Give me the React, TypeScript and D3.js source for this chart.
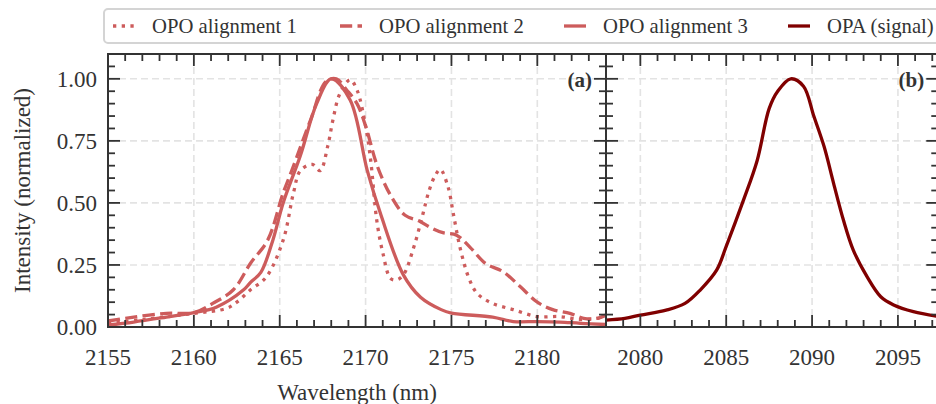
import React, { useEffect, useRef } from 'react'
import * as d3 from 'd3'

// OPO alignment 1 (dotted)
const opo1Wl = [2155, 2157, 2160, 2161.9, 2162.5, 2163.3, 2164.2, 2165.2, 2165.8, 2166.2, 2166.9, 2167.35, 2167.8, 2168.1, 2168.5, 2169.1, 2169.5, 2170.0, 2170.3, 2170.65, 2171.0, 2171.45, 2171.8, 2172.2, 2172.8, 2173.3, 2173.7, 2174.05, 2174.35, 2174.8, 2175.1, 2175.5, 2176.0, 2176.5, 2177.4, 2178.6, 2180.0, 2181.3, 2182.5, 2183.5, 2184]
const opo1Int = [0.015, 0.03, 0.055, 0.075, 0.1, 0.15, 0.2, 0.35, 0.54, 0.63, 0.655, 0.63, 0.73, 0.835, 0.94, 0.996, 0.955, 0.81, 0.67, 0.43, 0.3, 0.196, 0.19, 0.21, 0.32, 0.445, 0.55, 0.61, 0.635, 0.565, 0.46, 0.32, 0.2, 0.135, 0.095, 0.07, 0.042, 0.042, 0.03, 0.035, 0.04]

// OPO alignment 2 (dashed)
const opo2Wl = [2155, 2156.5, 2158.4, 2160, 2161.1, 2162.3, 2163.3, 2164.3, 2165.2, 2165.7, 2166.8, 2167.7, 2168.3, 2168.9, 2169.5, 2170.0, 2170.7, 2171.5, 2172.3, 2173.1, 2173.8, 2174.5, 2175.3, 2176.1, 2177.0, 2178.0, 2179.0, 2180.0, 2180.9, 2181.9, 2182.7, 2183.5, 2184]
const opo2Int = [0.024, 0.04, 0.055, 0.058, 0.095, 0.15, 0.257, 0.35, 0.54, 0.63, 0.835, 0.99, 1.0, 0.955, 0.9, 0.81, 0.645, 0.525, 0.45, 0.428, 0.4, 0.38, 0.37, 0.32, 0.255, 0.223, 0.163, 0.1, 0.07, 0.055, 0.035, 0.035, 0.048]

// OPO alignment 3 (solid)
const opo3Wl = [2155, 2156.5, 2158.4, 2160, 2161.3, 2162.9, 2163.3, 2163.9, 2164.6, 2165.2, 2166.2, 2167.15, 2168.0, 2169.1, 2170.1, 2170.9, 2172.2, 2173.2, 2174.4, 2175.0, 2177.4, 2178.6, 2180.0, 2181.3, 2182.5, 2184]
const opo3Int = [0.008, 0.02, 0.04, 0.058, 0.08, 0.15, 0.18, 0.22, 0.35, 0.5, 0.69, 0.9, 1.0, 0.915, 0.63, 0.45, 0.21, 0.12, 0.07, 0.056, 0.04, 0.022, 0.022, 0.02, 0.015, 0.01]

// OPA signal
const opaWl = [2078, 2079.1, 2080, 2081.5, 2082.6, 2083.5, 2084.45, 2085.0, 2086.0, 2086.8, 2087.5, 2088.0, 2088.76, 2089.5, 2090.1, 2090.7, 2091.25, 2091.83, 2092.4, 2093.2, 2094.0, 2094.75, 2095.9, 2097.4]
const opaInt = [0.028, 0.035, 0.048, 0.068, 0.095, 0.15, 0.23, 0.325, 0.51, 0.67, 0.88, 0.95, 1.0, 0.97, 0.85, 0.727, 0.58, 0.43, 0.31, 0.203, 0.122, 0.089, 0.062, 0.042]

const xTicksA = [2155, 2160, 2165, 2170, 2175, 2180]
const xTicksB = [2080, 2085, 2090, 2095]
const yTicks = [0, 0.25, 0.5, 0.75, 1.0]
const legendLabels = ['OPO alignment 1', 'OPO alignment 2', 'OPO alignment 3', 'OPA (signal)']

const OPO = '#cd5c5c'
const OPA = '#800000'
const INK = '#333'
const FONT = '"Liberation Serif", "Times New Roman", serif'

export default function App() {
  const ref = useRef<SVGSVGElement>(null)

  useEffect(() => {
    const svg = d3.select(ref.current)
    svg.selectAll('*').remove()

    const y = d3.scaleLinear().domain([0, 1.1]).range([327, 54])
    const xA = d3.scaleLinear().domain([2155, 2184]).range([108, 606])
    const pxPerNm = (606 - 108) / 29
    const xB = d3.scaleLinear().domain([2078, 2097.35]).range([606, 606 + 19.35 * pxPerNm])

    const styles: Record<string, string | null> = {
      dotted: '3.3 5.4',
      dashed: '12.2 5.3',
      solid: null,
    }

    const panels = [
      {
        id: 'a', x: xA, ticks: xTicksA, label: '(a)',
        series: [
          { wl: opo1Wl, v: opo1Int, color: OPO, dash: styles.dotted },
          { wl: opo2Wl, v: opo2Int, color: OPO, dash: styles.dashed },
          { wl: opo3Wl, v: opo3Int, color: OPO, dash: styles.solid },
        ],
      },
      {
        id: 'b', x: xB, ticks: xTicksB, label: '(b)',
        series: [{ wl: opaWl, v: opaInt, color: OPA, dash: styles.solid }],
      },
    ]

    const [y0, y1] = y.range()
    const line = d3.line().curve(d3.curveCatmullRom.alpha(0.5))

    panels.forEach((p, pi) => {
      const [x0, x1] = p.x.range()
      const g = svg.append('g')

      svg.append('clipPath').attr('id', 'clip-' + p.id)
        .append('rect').attr('x', x0).attr('y', y1).attr('width', x1 - x0).attr('height', y0 - y1)

      // grid
      const grid = g.append('g').attr('stroke', '#e3e3e3').attr('stroke-width', 1.6).attr('stroke-dasharray', '7 4')
      p.ticks.filter(t => p.x(t) > x0 + 1).forEach(t => {
        grid.append('line').attr('x1', p.x(t)).attr('x2', p.x(t)).attr('y1', y0).attr('y2', y1)
      })
      yTicks.filter(t => t > 0).forEach(t => {
        grid.append('line').attr('x1', x0).attr('x2', x1).attr('y1', y(t)).attr('y2', y(t))
      })

      // curves
      p.series.forEach(s => {
        const pts = s.wl.map((w, i) => [p.x(w), y(s.v[i])] as [number, number])
        g.append('path')
          .attr('d', line(pts))
          .attr('fill', 'none')
          .attr('stroke', s.color)
          .attr('stroke-width', 3.3)
          .attr('stroke-dasharray', s.dash)
          .attr('clip-path', `url(#clip-${p.id})`)
      })

      // ticks, inward on all sides
      const tk = g.append('g').attr('stroke', INK).attr('stroke-width', 1.8)
      const [d0, d1] = p.x.domain()
      d3.range(Math.ceil(d0), Math.floor(d1) + 1).forEach(t => {
        const len = t % 5 === 0 ? 12 : 7
        const xx = p.x(t)
        tk.append('line').attr('x1', xx).attr('x2', xx).attr('y1', y0).attr('y2', y0 - len)
        tk.append('line').attr('x1', xx).attr('x2', xx).attr('y1', y1).attr('y2', y1 + len)
      })
      d3.range(0, 22).forEach(k => {
        const len = k % 5 === 0 ? 12 : 7
        const yy = y(k * 0.05)
        tk.append('line').attr('x1', x0).attr('x2', x0 + len).attr('y1', yy).attr('y2', yy)
        tk.append('line').attr('x1', x1).attr('x2', x1 - len).attr('y1', yy).attr('y2', yy)
      })

      // frame
      g.append('rect')
        .attr('x', x0).attr('y', y1).attr('width', x1 - x0).attr('height', y0 - y1)
        .attr('fill', 'none').attr('stroke', INK).attr('stroke-width', 2)

      // tick labels
      g.append('g').selectAll('text').data(p.ticks).join('text')
        .attr('x', d => p.x(d)).attr('y', 365)
        .attr('text-anchor', 'middle')
        .attr('font-family', FONT).attr('font-size', 23).attr('fill', INK)
        .text(d => d)

      if (pi === 0) {
        g.append('g').selectAll('text').data(yTicks).join('text')
          .attr('x', 97).attr('y', d => y(d)).attr('dy', '0.35em')
          .attr('text-anchor', 'end')
          .attr('font-family', FONT).attr('font-size', 23).attr('fill', INK)
          .text(d => d.toFixed(2))
      }

      // panel label
      g.append('text')
        .attr('x', x1 - 14).attr('y', 87)
        .attr('text-anchor', 'end')
        .attr('font-family', FONT).attr('font-size', 21).attr('font-weight', 'bold').attr('fill', INK)
        .text(p.label)
    })

    // axis labels
    svg.append('text')
      .attr('x', (108 + 606) / 2).attr('y', 400)
      .attr('text-anchor', 'middle')
      .attr('font-family', FONT).attr('font-size', 23).attr('fill', INK)
      .text('Wavelength (nm)')
    svg.append('text')
      .attr('transform', `translate(30, ${(54 + 327) / 2}) rotate(-90)`)
      .attr('text-anchor', 'middle')
      .attr('font-family', FONT).attr('font-size', 23).attr('fill', INK)
      .text('Intensity (normalized)')

    // legend
    const leg = svg.append('g')
    leg.append('rect')
      .attr('x', 104).attr('y', 9).attr('width', 900).attr('height', 34).attr('rx', 4)
      .attr('fill', 'white').attr('stroke', '#d4d4d4').attr('stroke-width', 2)
    const legX = [113, 340, 564, 788]
    const legStyle = [
      { color: OPO, dash: styles.dotted },
      { color: OPO, dash: styles.dashed },
      { color: OPO, dash: styles.solid },
      { color: OPA, dash: styles.solid },
    ]
    legendLabels.forEach((lab, i) => {
      leg.append('line')
        .attr('x1', legX[i]).attr('x2', legX[i] + 22).attr('y1', 26).attr('y2', 26)
        .attr('stroke', legStyle[i].color).attr('stroke-width', 3.3)
        .attr('stroke-dasharray', legStyle[i].dash)
      leg.append('text')
        .attr('x', legX[i] + 39).attr('y', 26).attr('dy', '0.35em')
        .attr('font-family', FONT).attr('font-size', 20.7).attr('fill', INK)
        .text(lab)
    })
  }, [])

  return (
    <svg ref={ref} width={936} height={404}
      style={{ position: 'absolute', left: 0, top: 0, background: 'white' }} />
  )
}
